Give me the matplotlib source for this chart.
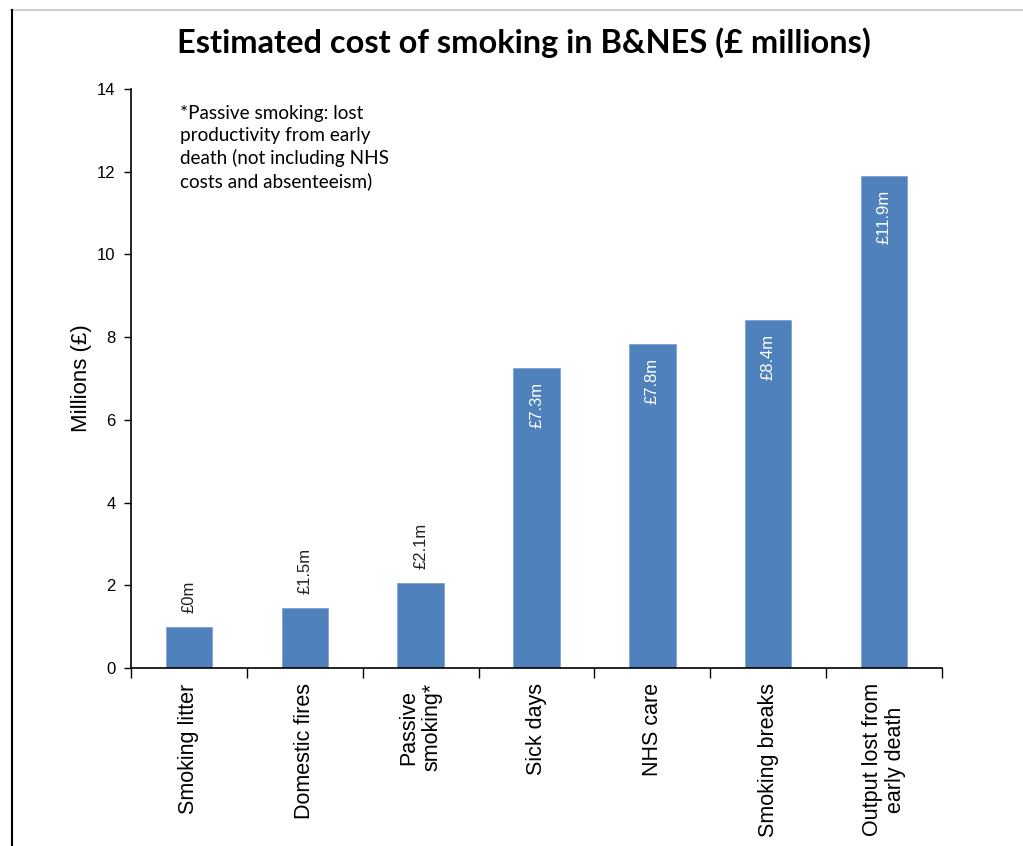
import matplotlib
matplotlib.use("Agg")
import matplotlib.pyplot as plt
from matplotlib.lines import Line2D
import numpy as np

categories = ["Smoking litter", "Domestic fires", "Passive\nsmoking*", "Sick days",
              "NHS care", "Smoking breaks", "Output lost from\nearly death"]
values = [1.0, 1.46, 2.06, 7.26, 7.83, 8.41, 11.9]
value_labels = ["£0m", "£1.5m", "£2.1m", "£7.3m", "£7.8m", "£8.4m", "£11.9m"]
inside = [False, False, False, True, True, True, True]
yticks = [0, 2, 4, 6, 8, 10, 12, 14]

plt.rcParams['font.family'] = ['Liberation Sans', 'DejaVu Sans']

fig = plt.figure(figsize=(10.23, 8.46), dpi=100)
ax = fig.add_axes([131/1023, 1-668/846, (942-131)/1023, (668-89)/846])

x = np.arange(len(categories))
bars = ax.bar(x, values, width=0.4, color="#4F81BD", edgecolor="#7FA3D1", linewidth=0.6)

ax.set_xlim(-0.5, len(categories) - 0.5)
ax.set_ylim(0, 14)
ax.set_yticks(yticks)
ax.set_yticklabels([str(t) for t in yticks], fontsize=12)
ax.tick_params(axis='y', direction='out', length=5, width=1, pad=6)

ax.set_xticks(x)
ax.set_xticklabels(categories, rotation=90, fontsize=15.5, ha='center', va='top',
                   multialignment='center', linespacing=1.15)
ax.tick_params(axis='x', which='major', length=0, pad=11)
ax.set_xticks(np.arange(len(categories) + 1) - 0.5, minor=True)
ax.tick_params(axis='x', which='minor', direction='out', length=7, width=1)

for s in ["top", "right"]:
    ax.spines[s].set_visible(False)
for s in ["left", "bottom"]:
    ax.spines[s].set_linewidth(1.2)

ax.set_ylabel("Millions (£)", fontsize=16, labelpad=4)

for xi, v, lab, ins in zip(x, values, value_labels, inside):
    if ins:
        ax.annotate(lab, (xi, v), xytext=(0, -10), textcoords="offset points",
                    rotation=90, ha='center', va='top', color='white', fontsize=12)
    else:
        ax.annotate(lab, (xi, v), xytext=(0, 10), textcoords="offset points",
                    rotation=90, ha='center', va='bottom', color='#222222', fontsize=12)

ax.text(0.061, 0.972, "*Passive smoking: lost\nproductivity from early\ndeath (not including NHS\ncosts and absenteeism)",
        transform=ax.transAxes, ha='left', va='top', fontsize=13.6, family=['Lato', 'DejaVu Sans'],
        linespacing=1.33)

fig.text(524/1023, 1-43/846, "Estimated cost of smoking in B&NES (£ millions)", ha='center', va='center',
         fontsize=23.4, fontweight='bold', family=['Lato', 'DejaVu Sans'])

# frame lines
fig.add_artist(Line2D([11/1023, 1], [1-10/846, 1-10/846], color='#c8c8c8', linewidth=1.2, transform=fig.transFigure))
fig.add_artist(Line2D([11.5/1023, 11.5/1023], [0, 1-10/846], color='black', linewidth=1.5, transform=fig.transFigure))

fig.savefig("out.png", dpi=100)
